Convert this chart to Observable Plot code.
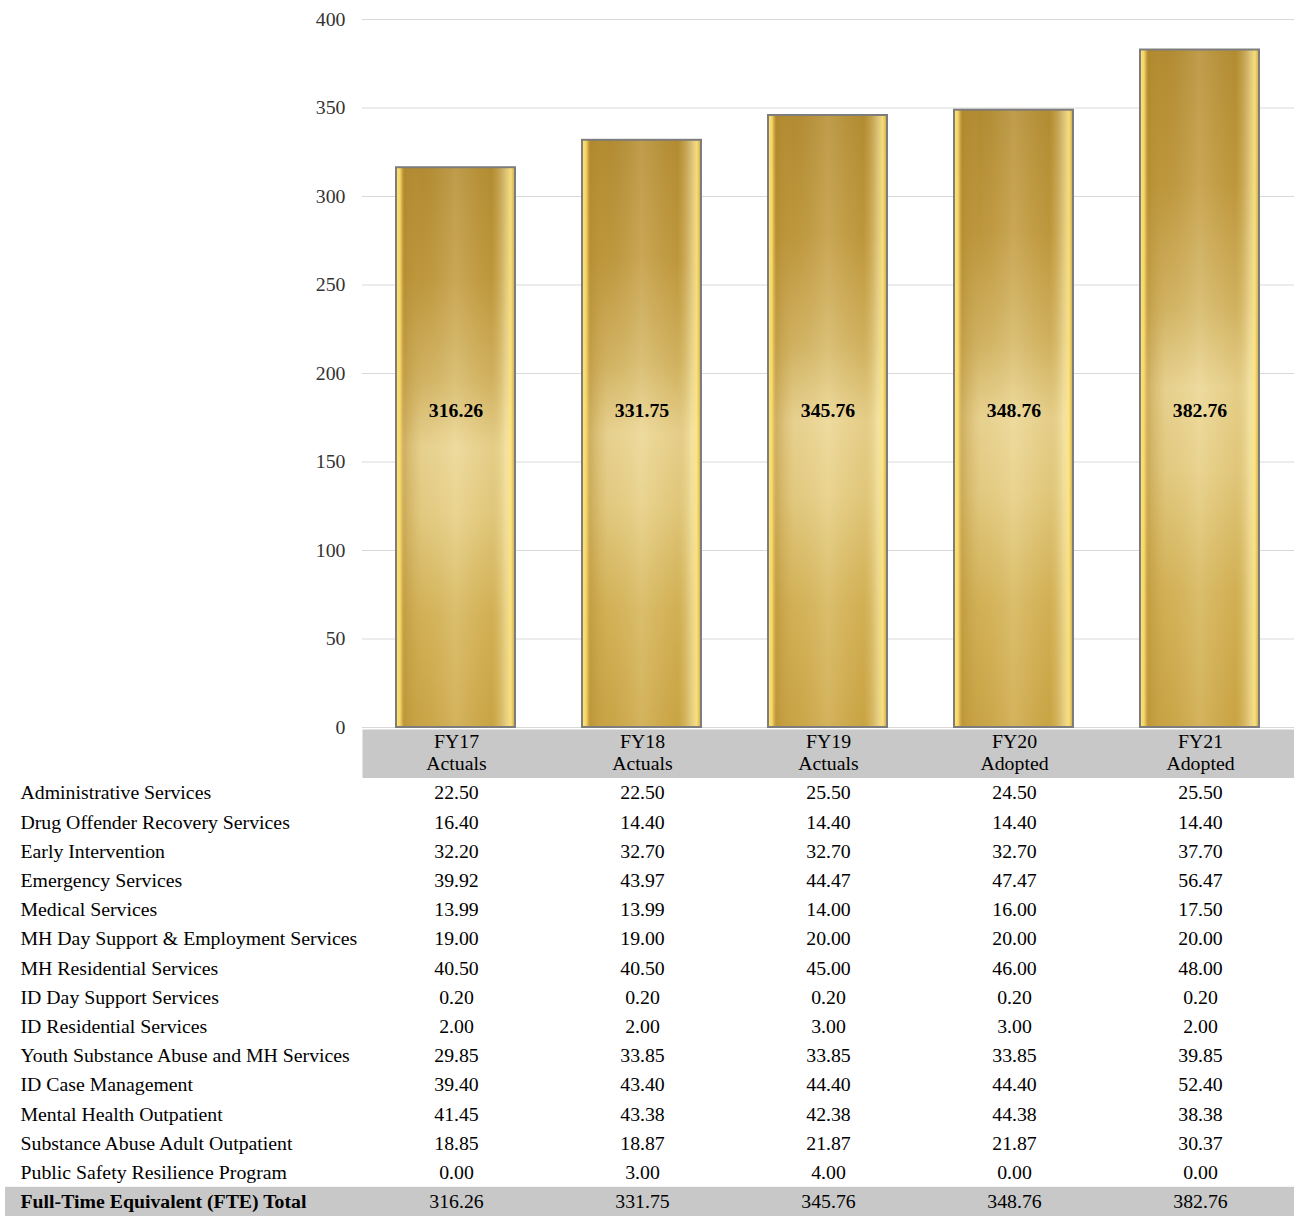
<!DOCTYPE html>
<html>
<head>
<meta charset="utf-8">
<script src="https://cdn.jsdelivr.net/npm/d3@7"></script>
<script src="https://cdn.jsdelivr.net/npm/@observablehq/plot@0.6"></script>
<style>
  body { margin: 0; background: #fff; }
  #chart svg { display: block; }
</style>
</head>
<body>
<div id="chart"></div>
<script>
// ---- data ----
const years = ["FY17", "FY18", "FY19", "FY20", "FY21"];
const yearStatus = ["Actuals", "Actuals", "Actuals", "Adopted", "Adopted"];
const totals = [316.26, 331.75, 345.76, 348.76, 382.76];
const yTicks = [0, 50, 100, 150, 200, 250, 300, 350, 400];
const categories = [
  "Administrative Services",
  "Drug Offender Recovery Services",
  "Early Intervention",
  "Emergency Services",
  "Medical Services",
  "MH Day Support & Employment Services",
  "MH Residential Services",
  "ID Day Support Services",
  "ID Residential Services",
  "Youth Substance Abuse and MH Services",
  "ID Case Management",
  "Mental Health Outpatient",
  "Substance Abuse Adult Outpatient",
  "Public Safety Resilience Program"
];
const totalLabel = "Full-Time Equivalent (FTE) Total";
const fy17 = [22.50, 16.40, 32.20, 39.92, 13.99, 19.00, 40.50, 0.20, 2.00, 29.85, 39.40, 41.45, 18.85, 0.00];
const fy18 = [22.50, 14.40, 32.70, 43.97, 13.99, 19.00, 40.50, 0.20, 2.00, 33.85, 43.40, 43.38, 18.87, 3.00];
const fy19 = [25.50, 14.40, 32.70, 44.47, 14.00, 20.00, 45.00, 0.20, 3.00, 33.85, 44.40, 42.38, 21.87, 4.00];
const fy20 = [24.50, 14.40, 32.70, 47.47, 16.00, 20.00, 46.00, 0.20, 3.00, 33.85, 44.40, 44.38, 21.87, 0.00];
const fy21 = [25.50, 14.40, 37.70, 56.47, 17.50, 20.00, 48.00, 0.20, 2.00, 39.85, 52.40, 38.38, 30.37, 0.00];
const labelLevel = 179; // vertical position (data units) of the bar value labels

// ---- derived tables ----
const bars = years.map((y, i) => ({year: y, status: yearStatus[i], total: totals[i]}));
const columns = [fy17, fy18, fy19, fy20, fy21];
const cells = [];
categories.forEach((c, r) => years.forEach((y, i) => cells.push({cat: c, year: y, value: columns[i][r]})));
const totalCells = years.map((y, i) => ({cat: totalLabel, year: y, value: totals[i]}));

const FONT = "'Liberation Serif', 'Times New Roman', serif";
const FS = 19.8;
const W = 1294;
const xScale = {domain: years, paddingInner: 0.36, paddingOuter: 0.18};
const fmt = d3.format(".2f");

// gradient defs
function defs() {
  const g = d3.create("svg:g");
  const d = g.append("defs");
  const v = d.append("linearGradient").attr("id", "goldV").attr("x1", 0).attr("y1", 0).attr("x2", 0).attr("y2", 1);
  [[0, "#ad852c"], [0.2, "#bb9339"], [0.38, "#d2b465"], [0.5, "#ecd89a"], [0.62, "#e6cf88"], [0.8, "#d3b257"], [1, "#c9a343"]]
    .forEach(([o, c]) => v.append("stop").attr("offset", o).attr("stop-color", c));
  const h = d.append("linearGradient").attr("id", "goldH").attr("x1", 0).attr("y1", 0).attr("x2", 1).attr("y2", 0);
  [[0, "#ffe573", 1], [0.035, "#f7d86a", 0.95], [0.07, "#b38a2e", 0.5], [0.22, "#c9a650", 0.15],
   [0.5, "#f2e3ab", 0.25], [0.8, "#c9a445", 0.2], [0.92, "#f6e7a8", 0.6], [0.965, "#ffe680", 0.9], [1, "#c9a445", 1]]
    .forEach(([o, c, a]) => h.append("stop").attr("offset", o).attr("stop-color", c).attr("stop-opacity", a));
  return g.node();
}

// ---- chart ----
const chart = Plot.plot({
  width: W,
  height: 729,
  marginLeft: 362,
  marginRight: 0,
  marginTop: 19,
  marginBottom: 2,
  style: {fontFamily: FONT, fontSize: FS + "px", color: "#333", background: "#fff", overflow: "visible"},
  x: {...xScale, axis: null},
  y: {domain: [0, 400], ticks: yTicks, tickSize: 0, tickPadding: 17, label: null},
  marks: [
    defs,
    Plot.gridY(yTicks, {stroke: "#d9d9d9", strokeOpacity: 1, strokeWidth: 1.2}),
    Plot.barY(bars, {x: "year", y: "total", fill: "url(#goldV)"}),
    Plot.barY(bars, {x: "year", y: "total", fill: "url(#goldH)", stroke: "#7d7d7d", strokeWidth: 2}),
    Plot.text(bars, {x: "year", y: () => labelLevel, text: d => fmt(d.total), fontWeight: "bold", fontSize: FS, fill: "#000"})
  ]
});

// ---- header row ----
const header = Plot.plot({
  width: W,
  height: 49,
  marginLeft: 362,
  marginRight: 0,
  marginTop: 0,
  marginBottom: 0,
  style: {fontFamily: FONT, fontSize: FS + "px", background: "transparent"},
  x: {...xScale, axis: null},
  marks: [
    Plot.frame({fill: "#c8c8c8", stroke: null}),
    Plot.text(bars, {x: "year", text: d => d.year + "\n" + d.status, lineHeight: 1.1, dy: -2, fontSize: FS, fill: "#000"})
  ]
});

// ---- table body ----
const body = Plot.plot({
  width: W,
  height: 438,
  marginLeft: 362,
  marginRight: 0,
  marginTop: 0,
  marginBottom: 0,
  style: {fontFamily: FONT, fontSize: FS + "px", background: "transparent", overflow: "visible"},
  x: {...xScale, axis: null},
  y: {domain: [...categories, totalLabel], padding: 0, round: false, axis: null},
  marks: [
    Plot.cell([totalLabel], {y: d => d, fill: "#c8c8c8", insetLeft: -357}),
    Plot.text(categories, {y: d => d, text: d => d, frameAnchor: "left", textAnchor: "start", dx: -342, fill: "#000", fontSize: FS}),
    Plot.text([totalLabel], {y: d => d, text: d => d, frameAnchor: "left", textAnchor: "start", dx: -342, fill: "#000", fontSize: FS, fontWeight: "bold"}),
    Plot.text(cells, {x: "year", y: "cat", text: d => fmt(d.value), fill: "#000", fontSize: FS}),
    Plot.text(totalCells, {x: "year", y: "cat", text: d => fmt(d.value), fill: "#000", fontSize: FS})
  ]
});

const root = document.getElementById("chart");
root.append(chart, header, body);
</script>
</body>
</html>
